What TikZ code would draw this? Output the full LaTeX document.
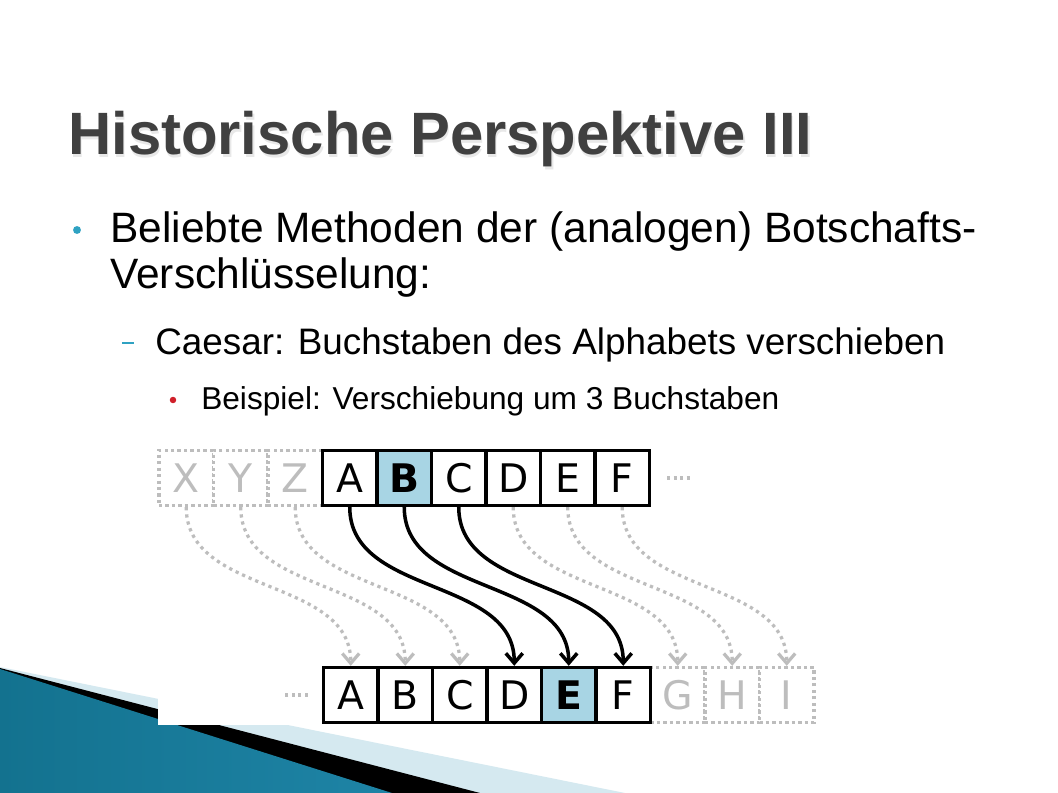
\documentclass[tikz,border=0pt]{standalone}
\usepackage{fontspec}
\setmainfont{Liberation Sans}
\newfontfamily\boxfont{DejaVu Sans}
\usetikzlibrary{arrows.meta}
\definecolor{SlideTeal}{HTML}{2FA2C2}
\definecolor{SlideRed}{HTML}{D0202A}
\definecolor{TitleGray}{HTML}{404040}
\definecolor{BoxBlue}{HTML}{A8D5E4}
\definecolor{GhostGray}{HTML}{BDBDBD}
\definecolor{SwooshLight}{HTML}{D5E9F0}
\definecolor{SwooshDark}{HTML}{13728F}
\definecolor{SwooshMid}{HTML}{4FAFD0}
\definecolor{SwooshRight}{HTML}{1E84A6}

\begin{document}
\begin{tikzpicture}[x=0.025cm, y=-0.025cm,
  letterbox/.style={draw=black, line width=2.4pt, fill=white,
      minimum width=1.3625cm, minimum height=1.375cm, inner sep=0pt,
      font=\boxfont\fontsize{28}{30}\selectfont},
  hlbox/.style={letterbox, fill=BoxBlue, font=\boxfont\bfseries\fontsize{28}{30}\selectfont},
  ghostbox/.style={letterbox, draw=GhostGray, dash pattern=on 2.3pt off 2.3pt, text=GhostGray},
  shiftarrow/.style={draw=black, line width=2.5pt, -{Straight Barb[length=7pt,width=12pt]}},
  ghostarrow/.style={draw=GhostGray, line width=2.3pt, dash pattern=on 2.3pt off 2.8pt,
      -{Straight Barb[length=7pt,width=12pt]}},
  ghostdots/.style={draw=GhostGray, line width=2.3pt, dash pattern=on 2.3pt off 2.3pt},
  slidetext/.style={anchor=base west, inner sep=0pt}
]
  \useasboundingbox (0,0) rectangle (1058,793);
  \fill[white] (0,0) rectangle (1058,793);

  % swoosh in the lower left corner
  \fill[SwooshLight] (0,667) -- (625,793) -- (0,793) -- cycle;
  \fill[black] (0,668) -- (480,793) -- (0,793) -- cycle;
  \shade[left color=SwooshDark, middle color=SwooshMid, right color=SwooshRight]
    (0,669) -- (392,793) -- (0,793) -- cycle;
  \fill[white] (158,440) rectangle (820,725);

  % title
  \node[slidetext, text=black!9, font=\bfseries\fontsize{42.5}{46}\selectfont] at (69.5,157.5)
    {Historische Perspektive III};
  \node[slidetext, text=TitleGray, font=\bfseries\fontsize{42.5}{46}\selectfont] (title) at (68,155)
    {Historische Perspektive III};

  % bullets
  \fill[SlideTeal] (77,230) circle[radius=2.8pt];
  \node[slidetext, font=\fontsize{30.2}{34}\selectfont] (main) at (110,243)
    {Beliebte Methoden der (analogen) Botschafts-};
  \node[slidetext, font=\fontsize{30.2}{34}\selectfont] (mainb) at (110,289)
    {Verschlüsselung:};
  \draw[SlideTeal, line width=1.4pt] (122,343) -- (134,343);
  \node[slidetext, font=\fontsize{26.2}{30}\selectfont] (caesar) at (155,355)
    {Caesar: Buchstaben des Alphabets verschieben};
  \fill[SlideRed] (173,400) circle[radius=2.3pt];
  \node[slidetext, font=\fontsize{22.5}{26}\selectfont] (example) at (201,409)
    {Beispiel: Verschiebung um 3 Buchstaben};

  % plain alphabet
  \foreach \l/\sty [count=\i from 0] in {X/ghostbox,Y/ghostbox,Z/ghostbox,A/letterbox,B/hlbox,
      C/letterbox,D/letterbox,E/letterbox,F/letterbox}
    \node[\sty] (t\i) at ({159+54.5*(\i+0.5)},478) {\l};
  \draw[ghostdots] (t8.east) ++(16,0) -- ++(24,0);

  % shifted alphabet
  \foreach \l [count=\i from 6] in {G,H,I}
    \node[ghostbox] (b\i) at ({323.5+54.5*(\i+0.5)},695) {\l};
  \foreach \l/\sty [count=\i from 0] in {A/letterbox,B/letterbox,C/letterbox,D/letterbox,
      E/hlbox,F/letterbox}
    \node[\sty] (b\i) at ({323.5+54.5*(\i+0.5)},695) {\l};
  \draw[ghostdots] (b0.west) ++(-14,0) -- ++(-24,0);

  % shift by three
  \foreach \n in {0,1,2,6,7,8}
    \draw[ghostarrow] (t\n.south) to[out=-90, in=90] (b\n.north);
  \foreach \n in {3,4,5}
    \draw[shiftarrow] (t\n.south) to[out=-90, in=90] (b\n.north);
\end{tikzpicture}
\end{document}
